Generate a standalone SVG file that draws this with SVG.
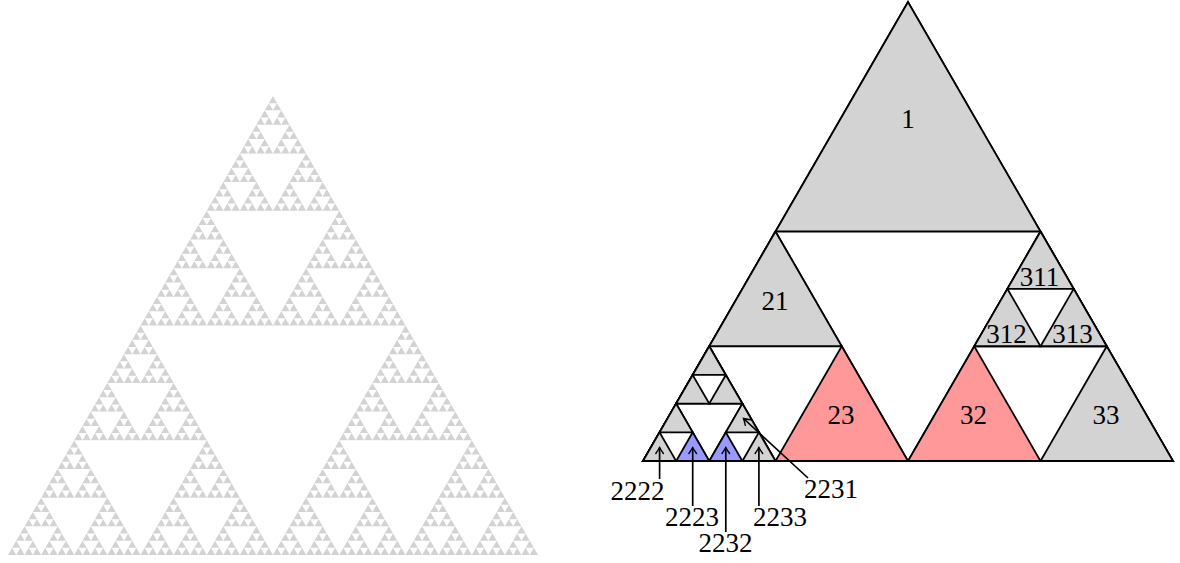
<svg xmlns="http://www.w3.org/2000/svg" xmlns:xlink="http://www.w3.org/1999/xlink" width="1180" height="563" viewBox="0 0 1180 563">
<style>
.t{stroke:#000;stroke-width:1.8;stroke-linejoin:miter}
.g{fill:#d3d3d3}
.r{fill:#ff9999}
.b{fill:#9999ff}
.o{fill:none}
.lbl{font-family:"Liberation Serif","DejaVu Serif",serif;font-size:27px;fill:#000;text-anchor:middle}
.ar{stroke:#000;stroke-width:1.7;fill:none}
</style>
<defs>
<marker id="ah" viewBox="-7 -5 9 10" markerWidth="9" markerHeight="10" refX="0" refY="0" orient="auto" markerUnits="userSpaceOnUse">
<path d="M -6 -3.8 Q -2 -1 0 0 Q -2 1 -6 3.8" fill="none" stroke="#000" stroke-width="1.4" stroke-linecap="round"/>
</marker>
<polygon id="s0" points="0,0 8.28125,0 4.140625,-7.171774" fill="#d3d3d3"/>
<g id="s1"><use xlink:href="#s0"/><use xlink:href="#s0" x="8.28125"/><use xlink:href="#s0" x="4.140625" y="-7.171774"/></g>
<g id="s2"><use xlink:href="#s1"/><use xlink:href="#s1" x="16.5625"/><use xlink:href="#s1" x="8.28125" y="-14.343547"/></g>
<g id="s3"><use xlink:href="#s2"/><use xlink:href="#s2" x="33.125"/><use xlink:href="#s2" x="16.5625" y="-28.687094"/></g>
<g id="s4"><use xlink:href="#s3"/><use xlink:href="#s3" x="66.25"/><use xlink:href="#s3" x="33.125" y="-57.374188"/></g>
<g id="s5"><use xlink:href="#s4"/><use xlink:href="#s4" x="132.5"/><use xlink:href="#s4" x="66.25" y="-114.748375"/></g>
<g id="s6"><use xlink:href="#s5"/><use xlink:href="#s5" x="265"/><use xlink:href="#s5" x="132.5" y="-229.49675"/></g>
</defs>

<g id="sierpinski">
<use xlink:href="#s6" transform="translate(8,555)"/>
</g>

<g id="tri-outline">
<polygon class="t o" points="908,2 643,461 1173,461"/>
<polygon class="t o" points="775.5,231.5 643,461 908,461"/>
<polygon class="t o" points="1040.5,231.5 908,461 1173,461"/>
<polygon class="t o" points="709.25,346.25 643,461 775.5,461"/>
<polygon class="t o" points="1040.5,231.5 974.25,346.25 1106.75,346.25"/>
<polygon class="t o" points="709.25,346.25 676.125,403.625 742.375,403.625"/>
<polygon class="t o" points="676.125,403.625 643,461 709.25,461"/>
<polygon class="t o" points="742.375,403.625 709.25,461 775.5,461"/>
</g>
<g id="n1"><polygon class="t g" points="908,2 775.5,231.5 1040.5,231.5"/><text class="lbl" x="908" y="128">1</text></g>
<g id="n21"><polygon class="t g" points="775.5,231.5 709.25,346.25 841.75,346.25"/><text class="lbl" x="775" y="310">21</text></g>
<g id="n23"><polygon class="t r" points="841.75,346.25 775.5,461 908,461"/><text class="lbl" x="841" y="424">23</text></g>
<g id="n32"><polygon class="t r" points="974.25,346.25 908,461 1040.5,461"/><text class="lbl" x="973.5" y="424">32</text></g>
<g id="n33"><polygon class="t g" points="1106.75,346.25 1040.5,461 1173,461"/><text class="lbl" x="1106" y="424">33</text></g>
<g id="n311"><polygon class="t g" points="1040.5,231.5 1007.375,288.875 1073.625,288.875"/><text class="lbl" x="1039.5" y="286">311</text></g>
<g id="n312"><polygon class="t g" points="1007.375,288.875 974.25,346.25 1040.5,346.25"/><text class="lbl" x="1006.5" y="343">312</text></g>
<g id="n313"><polygon class="t g" points="1073.625,288.875 1040.5,346.25 1106.75,346.25"/><text class="lbl" x="1072.5" y="343">313</text></g>
<g id="n2211"><polygon class="t g" points="709.25,346.25 692.6875,374.9375 725.8125,374.9375"/></g>
<g id="n2212"><polygon class="t g" points="692.6875,374.9375 676.125,403.625 709.25,403.625"/></g>
<g id="n2213"><polygon class="t g" points="725.8125,374.9375 709.25,403.625 742.375,403.625"/></g>
<g id="n2221"><polygon class="t g" points="676.125,403.625 659.5625,432.3125 692.6875,432.3125"/></g>
<g id="n2222"><polygon class="t g" points="659.5625,432.3125 643,461 676.125,461"/><text class="lbl" x="637.5" y="500">2222</text></g>
<g id="n2223"><polygon class="t b" points="692.6875,432.3125 676.125,461 709.25,461"/><text class="lbl" x="692" y="526">2223</text></g>
<g id="n2231"><polygon class="t g" points="742.375,403.625 725.8125,432.3125 758.9375,432.3125"/><text class="lbl" x="831" y="498">2231</text></g>
<g id="n2232"><polygon class="t b" points="725.8125,432.3125 709.25,461 742.375,461"/><text class="lbl" x="725.5" y="552">2232</text></g>
<g id="n2233"><polygon class="t g" points="758.9375,432.3125 742.375,461 775.5,461"/><text class="lbl" x="780" y="526">2233</text></g>

<g id="connectors">
<path class="ar" d="M 659.6 479 L 659.6 447.5" marker-end="url(#ah)"/>
<path class="ar" d="M 692.7 506 L 692.7 447.5" marker-end="url(#ah)"/>
<path class="ar" d="M 725.8 532 L 725.8 447.5" marker-end="url(#ah)"/>
<path class="ar" d="M 758.9 506 L 758.9 447.5" marker-end="url(#ah)"/>
<path class="ar" d="M 808 478 L 743.5 418.5" marker-end="url(#ah)"/>
</g>
</svg>
